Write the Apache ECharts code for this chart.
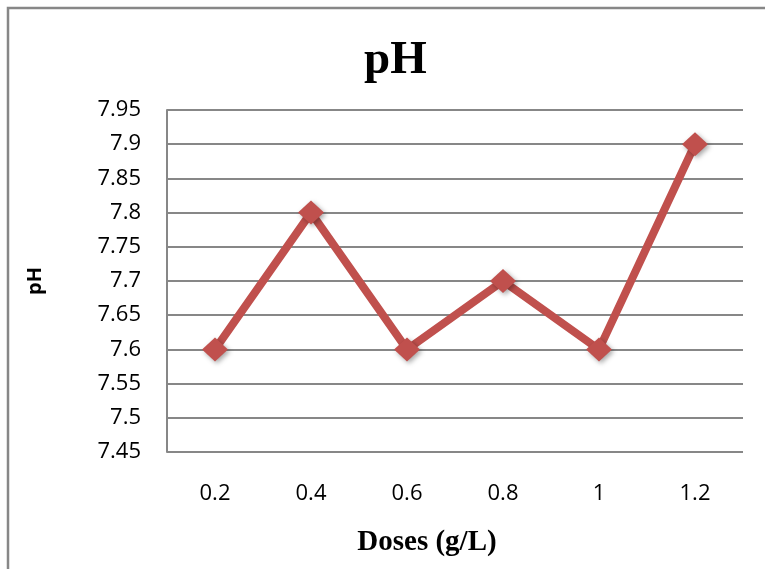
<!DOCTYPE html>
<html>
<head>
<meta charset="utf-8">
<script src="https://cdn.jsdelivr.net/npm/echarts@6/dist/echarts.min.js"></script>
<style>
  html, body { margin: 0; padding: 0; background: #fff; }
  #chart { width: 765px; height: 569px; }
</style>
</head>
<body>
<div id="chart"></div>
<script>
const doses = ["0.2", "0.4", "0.6", "0.8", "1", "1.2"];
const phValues = [7.6, 7.8, 7.6, 7.7, 7.6, 7.9];

let myChart = echarts.init(document.getElementById("chart"), null, { renderer: "canvas" });

let tickFont = "'Open Sans', 'Noto Sans', sans-serif";
let serifFont = "'Liberation Serif', 'Times New Roman', serif";

let option = {
  backgroundColor: "#fff",
  animation: false,
  graphic: [
    {
      type: "rect",
      shape: { x: 8, y: 8, width: 800, height: 600 },
      style: { fill: "none", stroke: "#878787", lineWidth: 2.5 }
    }
  ],
  title: {
    text: "pH",
    left: 359,
    top: 32,
    textStyle: {
      fontFamily: serifFont,
      fontWeight: "bold",
      fontSize: 47,
      color: "#000"
    }
  },
  grid: {
    left: 167,
    right: 22,
    top: 110,
    bottom: 117
  },
  xAxis: {
    type: "category",
    data: doses,
    boundaryGap: true,
    name: "Doses (g/L)",
    nameLocation: "middle",
    nameGap: 76,
    nameTextStyle: {
      fontFamily: serifFont,
      fontWeight: "bold",
      fontSize: 29,
      color: "#000",
      padding: [0, 56, 0, 0]
    },
    axisLine: { show: false },
    axisTick: { show: false },
    axisLabel: {
      margin: 31,
      fontFamily: tickFont,
      fontSize: 22,
      color: "#000"
    }
  },
  yAxis: {
    type: "value",
    min: 7.45,
    max: 7.95,
    interval: 0.05,
    name: "pH",
    nameLocation: "middle",
    nameGap: 122,
    nameRotate: 90,
    nameTextStyle: {
      fontFamily: tickFont,
      fontWeight: "bold",
      fontSize: 20,
      color: "#000",
      padding: [0, 0, 0, 0]
    },
    axisLine: { show: true, lineStyle: { color: "#878787", width: 2 } },
    axisTick: { show: false },
    axisLabel: {
      margin: 26,
      fontFamily: tickFont,
      fontSize: 22,
      color: "#000",
      formatter: (v) => String(parseFloat(v.toFixed(2)))
    },
    splitLine: { show: true, lineStyle: { color: "#878787", width: 2 } }
  },
  series: [
    {
      type: "line",
      data: phValues,
      symbol: "diamond",
      symbolSize: [26, 24],
      lineStyle: { color: "#C0504D", width: 8 },
      itemStyle: {
        color: "#C0504D",
        shadowColor: "rgba(0,0,0,0.35)",
        shadowBlur: 5,
        shadowOffsetX: 2,
        shadowOffsetY: 2
      }
    }
  ]
};

myChart.setOption(option);
window.addEventListener("resize", myChart.resize);
</script>
</body>
</html>
